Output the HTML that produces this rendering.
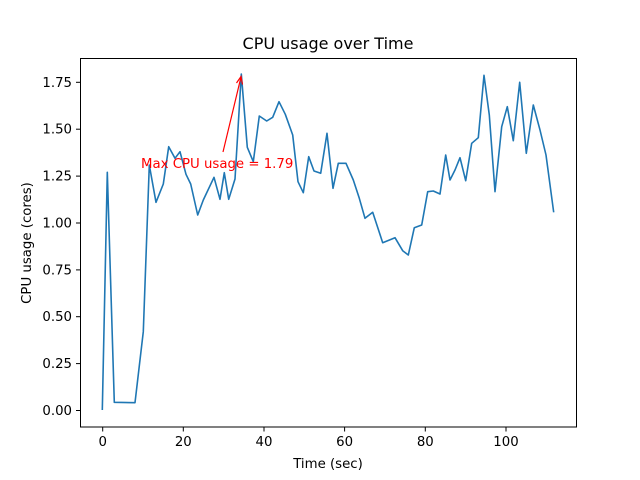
<!DOCTYPE html>
<html><head><meta charset="utf-8"><style>body{margin:0;background:#fff}svg{display:block}text{font-family:"DejaVu Sans","Liberation Sans",sans-serif;fill:#000}</style></head><body>
<svg width="640" height="480" viewBox="0 0 640 480" xmlns="http://www.w3.org/2000/svg">
<rect width="640" height="480" fill="#fff"/>
<text x="328" y="49" font-size="16" text-anchor="middle">CPU usage over Time</text>
<polyline fill="none" stroke="#1f77b4" stroke-width="1.6" stroke-linejoin="round" points="102.3,410 107.3,172.3 114.3,402.3 135,402.7 143.3,331.7 149.3,165 156,202.3 163.3,184 168.7,146.7 175,158.3 180,151.7 186,174.3 190.7,184 197.7,215 203.3,200 214,177.3 220,199.3 224.3,172.7 228.7,199.3 235,179 241.3,74 247.3,147.3 253.3,161.7 259.3,116 266.7,121 272.7,117.3 279,101.7 285.3,114.3 292.7,135 298,181.7 303.3,192.7 308.7,156.7 314,171 320.7,173.3 327,133.3 333,188.3 338.3,163.3 346,163.3 353.3,180 359.3,198.3 365,218.3 372.7,212.3 382.7,242.7 395,237.7 402.7,250.7 408.3,255 414.3,227.7 421.7,225 427.7,191.7 433.3,191 440,194 445.7,155 450,180 455,170 460,157.7 465.7,180.7 471.7,143.3 478.3,137.7 484,75.3 489.3,115 495,191.7 501.7,126.7 507.3,106.7 513.3,140.7 519.7,82.3 526.3,153.3 533.3,105 540,130 546,155 553.7,212.3"/>
<line x1="223" y1="152" x2="241" y2="77" stroke="red" stroke-width="1.2"/>
<polyline points="236.5,83 241,76.5 242.5,84.5" fill="none" stroke="red" stroke-width="1.2"/>
<text x="141" y="168" font-size="13.3" style="fill:red">Max CPU usage = 1.79</text>
<rect x="80.5" y="58.5" width="496" height="368.5" fill="none" stroke="#000" stroke-width="1"/>
<g stroke="#000" stroke-width="1">
<line x1="102.7" y1="427" x2="102.7" y2="431.5"/><line x1="183.3" y1="427" x2="183.3" y2="431.5"/><line x1="264" y1="427" x2="264" y2="431.5"/><line x1="344.6" y1="427" x2="344.6" y2="431.5"/><line x1="425.3" y1="427" x2="425.3" y2="431.5"/><line x1="506" y1="427" x2="506" y2="431.5"/>
<line x1="76" y1="410.5" x2="80.5" y2="410.5"/><line x1="76" y1="363.6" x2="80.5" y2="363.6"/><line x1="76" y1="316.7" x2="80.5" y2="316.7"/><line x1="76" y1="269.9" x2="80.5" y2="269.9"/><line x1="76" y1="223" x2="80.5" y2="223"/><line x1="76" y1="176.1" x2="80.5" y2="176.1"/><line x1="76" y1="129.2" x2="80.5" y2="129.2"/><line x1="76" y1="82.3" x2="80.5" y2="82.3"/>
</g>
<g font-size="13.3" text-anchor="middle">
<text x="102.7" y="446">0</text><text x="183.3" y="446">20</text><text x="264" y="446">40</text><text x="344.6" y="446">60</text><text x="425.3" y="446">80</text><text x="506" y="446">100</text>
</g>
<g font-size="13.3" text-anchor="end">
<text x="72" y="415">0.00</text><text x="72" y="368.1">0.25</text><text x="72" y="321.2">0.50</text><text x="72" y="274.4">0.75</text><text x="72" y="227.5">1.00</text><text x="72" y="180.6">1.25</text><text x="72" y="133.7">1.50</text><text x="72" y="86.8">1.75</text>
</g>
<text x="328" y="468" font-size="13.3" text-anchor="middle">Time (sec)</text>
<text transform="translate(31,243) rotate(-90)" font-size="13.3" text-anchor="middle">CPU usage (cores)</text>
</svg>
</body></html>
